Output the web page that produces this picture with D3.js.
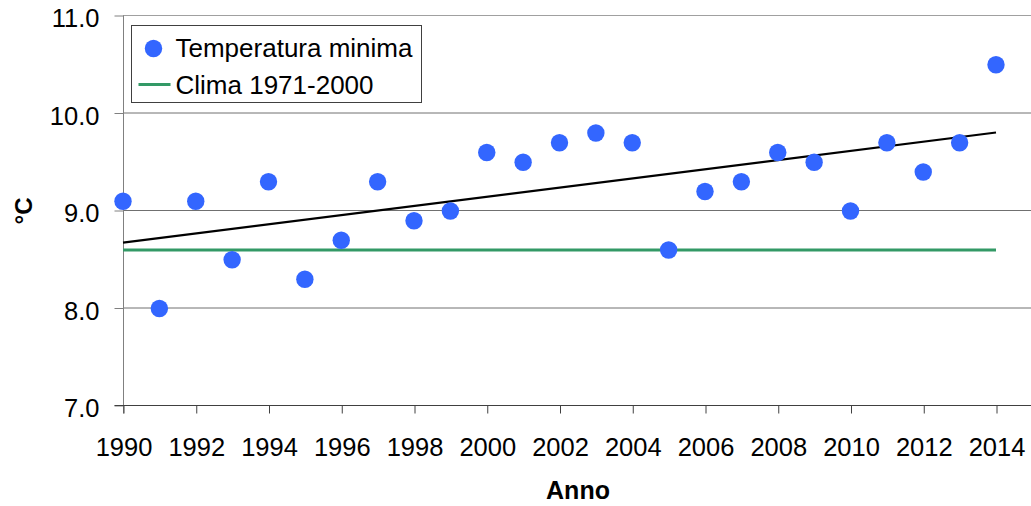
<!DOCTYPE html>
<html>
<head>
<meta charset="utf-8">
<script src="https://cdn.jsdelivr.net/npm/d3@7"></script>
<style>
  body { margin: 0; background: #fff; }
  text { font-family: "Liberation Sans", Arial, sans-serif; fill: #000; }
</style>
</head>
<body>
<svg id="chart" width="1031" height="506"></svg>
<script>
var years = d3.range(1990, 2015)
var tmin = [9.1, 8.0, 9.1, 8.5, 9.3, 8.3, 8.7, 9.3, 8.9, 9.0,
            9.6, 9.5, 9.7, 9.8, 9.7, 8.6, 9.2, 9.3, 9.6, 9.5,
            9.0, 9.7, 9.4, 9.7, 10.5]
var clima = 8.6
var yTicks = [7, 8, 9, 10, 11]
var xTicks = d3.range(1990, 2015, 2)

var svg = d3.select('#chart')

var x = d3.scaleLinear().domain([1990, 2014]).range([123, 996])
var y = d3.scaleLinear().domain([7, 11]).range([406, 16])

// gridlines
svg.append('g')
    .selectAll('line')
    .data(yTicks.slice(1))
    .join('line')
    .attr('x1', x(1990)).attr('x2', 1031)
    .attr('y1', d => y(d) - 0.5).attr('y2', d => y(d) - 0.5)
    .attr('stroke', d => d == 11 ? '#a0a0a0' : '#707070')
    .attr('stroke-width', 1)

// axes
var yAxis = d3.axisLeft(y).tickValues(yTicks).tickFormat(d3.format('.1f')).tickSize(9).tickPadding(15)
var gy = svg.append('g').attr('transform', `translate(${x(1990) + 0.5},-0.5)`).call(yAxis)
gy.select('.domain').attr('stroke', '#808080').attr('d', `M0,${y(11)}V${y(7) + 8}`)
gy.selectAll('.tick line').attr('stroke', '#808080')
gy.selectAll('.tick text').attr('font-size', 25.5).attr('dy', '0.44em')
    .attr('font-family', '"Liberation Sans", Arial, sans-serif')

var xAxis = d3.axisBottom(x).tickValues(xTicks).tickFormat(d3.format('d')).tickSize(8).tickPadding(24)
var gx = svg.append('g').attr('transform', `translate(0.5,${y(7) - 0.5})`).call(xAxis)
gx.select('.domain').attr('stroke', '#404040').attr('d', `M${x(1990) - 9},0H1031`)
gx.selectAll('.tick line').attr('stroke', '#404040')
gx.selectAll('.tick text').attr('font-size', 25.5)
    .attr('font-family', '"Liberation Sans", Arial, sans-serif')

// axis titles
svg.append('text')
    .attr('transform', `translate(32,${y(9)}) rotate(-90)`)
    .attr('text-anchor', 'middle')
    .attr('font-size', 24).attr('font-weight', 'bold')
    .text('°C')

svg.append('text')
    .attr('x', 578).attr('y', 499)
    .attr('text-anchor', 'middle')
    .attr('font-size', 25).attr('font-weight', 'bold')
    .text('Anno')

// clima line
svg.append('line')
    .attr('x1', x(1990)).attr('x2', x(2014))
    .attr('y1', y(clima)).attr('y2', y(clima))
    .attr('stroke', '#339966').attr('stroke-width', 3)

// linear trend (least squares)
var mx = d3.mean(years), my = d3.mean(tmin)
var slope = d3.sum(years, (d, i) => (d - mx) * (tmin[i] - my)) / d3.sum(years, d => (d - mx) * (d - mx))
var trend = d => my + slope * (d - mx)
svg.append('line')
    .attr('x1', x(1990)).attr('x2', x(2014))
    .attr('y1', y(trend(1990))).attr('y2', y(trend(2014)))
    .attr('stroke', '#000').attr('stroke-width', 2.2)

// points
svg.append('g')
    .selectAll('circle')
    .data(years)
    .join('circle')
    .attr('cx', d => x(d))
    .attr('cy', (d, i) => y(tmin[i]))
    .attr('r', 8.7)
    .attr('fill', '#3366ff')

// legend
var legend = svg.append('g').attr('transform', 'translate(131.5,25.5)')
legend.append('rect')
    .attr('width', 290).attr('height', 77)
    .attr('fill', '#fff').attr('stroke', '#404040')
legend.append('circle').attr('cx', 22).attr('cy', 23).attr('r', 8.7).attr('fill', '#3366ff')
legend.append('text').attr('x', 44).attr('y', 31).attr('font-size', 26).text('Temperatura minima')
legend.append('line').attr('x1', 7).attr('x2', 39).attr('y1', 59).attr('y2', 59)
    .attr('stroke', '#339966').attr('stroke-width', 3)
legend.append('text').attr('x', 44).attr('y', 68).attr('font-size', 26).text('Clima 1971-2000')
</script>
</body>
</html>
